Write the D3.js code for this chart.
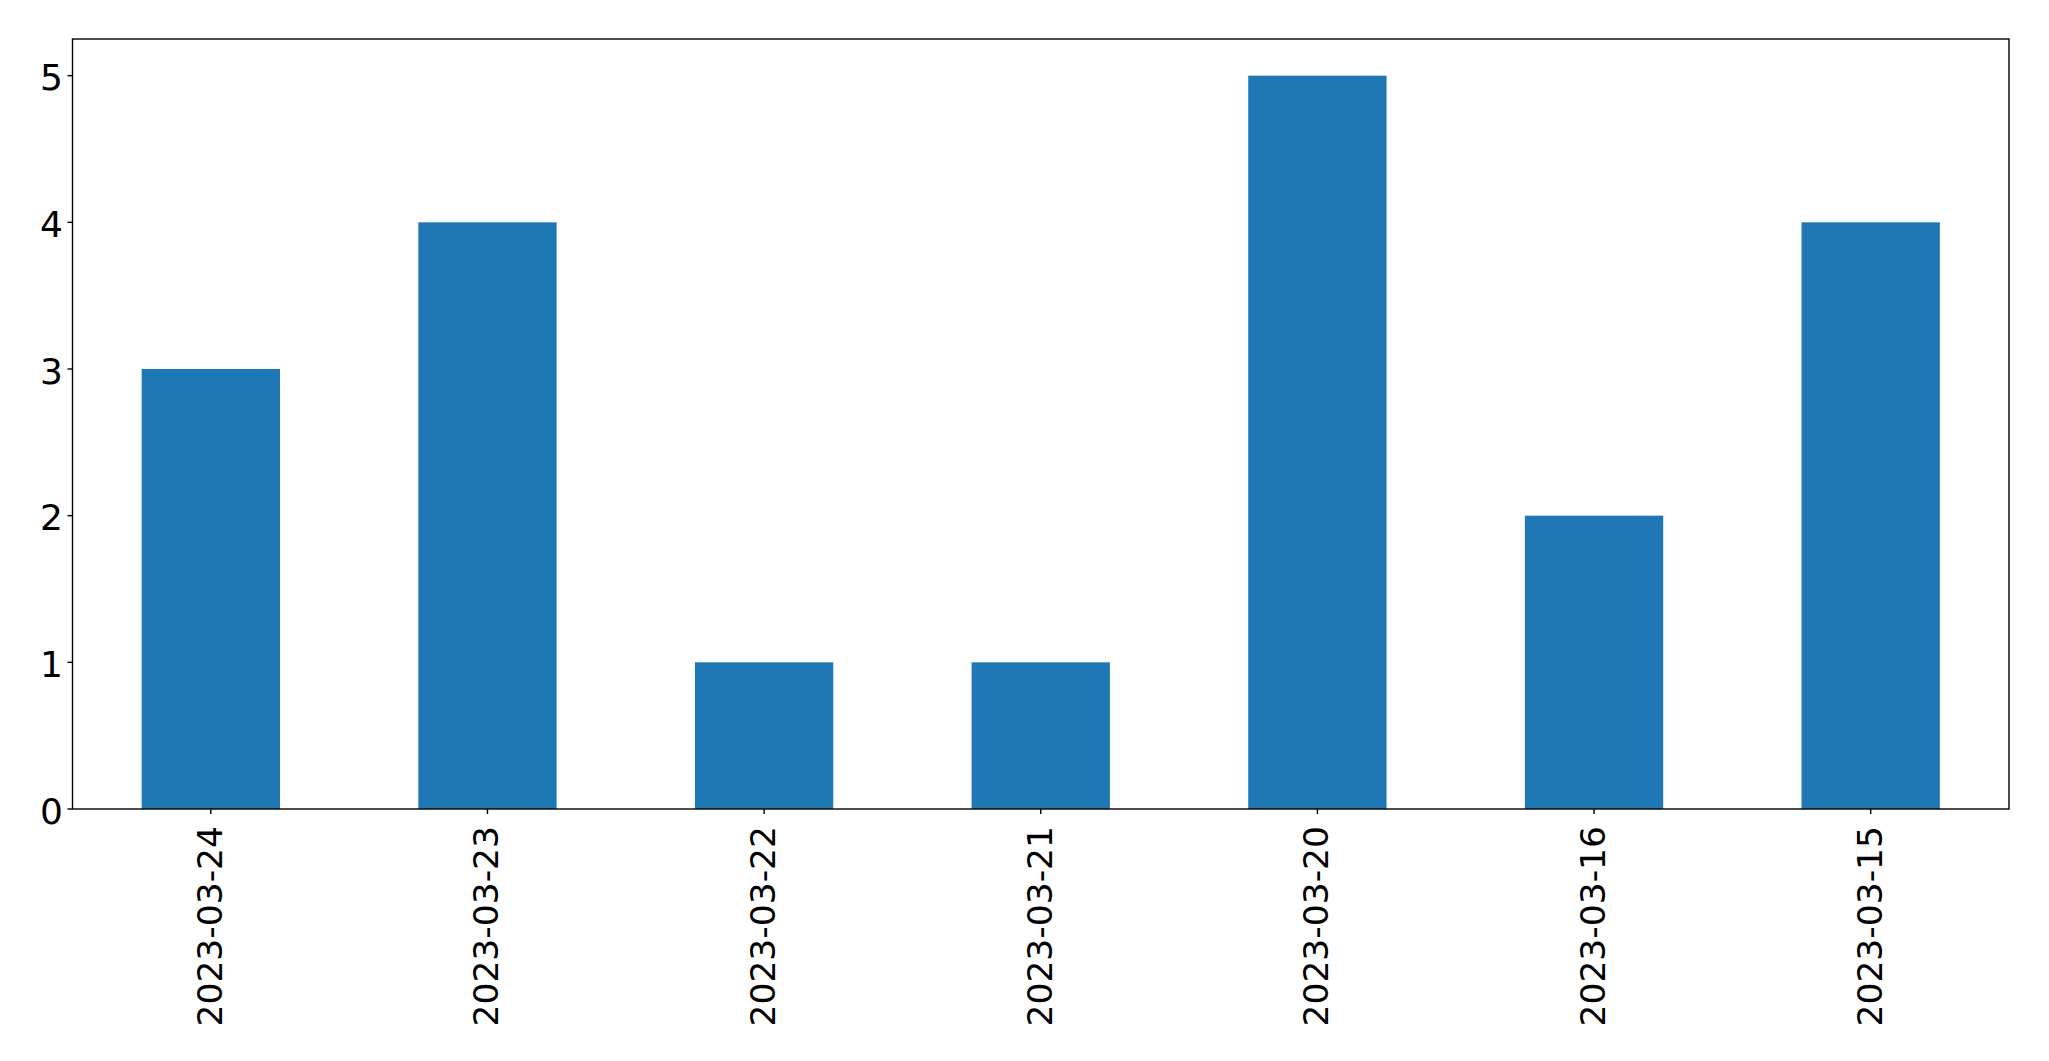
<!DOCTYPE html>
<html>
<head>
<meta charset="utf-8">
<script src="https://cdn.jsdelivr.net/npm/d3@7"></script>
<style>
html,body{margin:0;padding:0;background:#fff;}
svg{display:block;}
</style>
</head>
<body>
<svg id="chart" width="2049" height="1061"></svg>
<script>
const categories = ["2023-03-24","2023-03-23","2023-03-22","2023-03-21","2023-03-20","2023-03-16","2023-03-15"];
const values = [3, 4, 1, 1, 5, 2, 4];
const yTicks = [0, 1, 2, 3, 4, 5];

const W = 2049, H = 1061;
const m = {left: 72.5, right: 2049 - 2009, top: 39, bottom: 1061 - 809};
const svg = d3.select("#chart");
const fontFamily = "'DejaVu Sans', sans-serif";
const yFontSize = 36;
const xFontSize = 34.5;

const x = d3.scaleBand().domain(categories).range([m.left, W - m.right]).paddingInner(0.5).paddingOuter(0.25);
const y = d3.scaleLinear().domain([0, 5.25]).range([H - m.bottom, m.top]);

svg.append("g").selectAll("rect").data(values).join("rect")
  .attr("x", (d, i) => x(categories[i]))
  .attr("width", x.bandwidth())
  .attr("y", d => y(d))
  .attr("height", d => y(0) - y(d))
  .attr("fill", "#1f77b4");

// frame
svg.append("rect")
  .attr("x", m.left).attr("y", m.top)
  .attr("width", W - m.right - m.left).attr("height", H - m.bottom - m.top)
  .attr("fill", "none").attr("stroke", "#000").attr("stroke-width", 1.4);

// y axis ticks
const yg = svg.append("g");
yg.selectAll("line").data(yTicks).join("line")
  .attr("x1", m.left - 5).attr("x2", m.left)
  .attr("y1", d => y(d)).attr("y2", d => y(d))
  .attr("stroke", "#000").attr("stroke-width", 1.4);
yg.selectAll("text").data(yTicks).join("text")
  .attr("x", m.left - 9.5)
  .attr("y", d => y(d) + 14.5)
  .attr("text-anchor", "end")
  .attr("font-family", fontFamily).attr("font-size", yFontSize)
  .attr("fill", "#000")
  .text(d => d);

// x axis ticks
const xg = svg.append("g");
const cx = c => x(c) + x.bandwidth() / 2;
xg.selectAll("line").data(categories).join("line")
  .attr("x1", cx).attr("x2", cx)
  .attr("y1", H - m.bottom).attr("y2", H - m.bottom + 5)
  .attr("stroke", "#000").attr("stroke-width", 1.4);
xg.selectAll("text").data(categories).join("text")
  .attr("transform", c => `translate(${cx(c) + 11},${H - m.bottom + 17}) rotate(-90)`)
  .attr("text-anchor", "end")
  .attr("font-family", fontFamily).attr("font-size", xFontSize)
  .attr("fill", "#000")
  .text(c => c);
</script>
</body>
</html>
